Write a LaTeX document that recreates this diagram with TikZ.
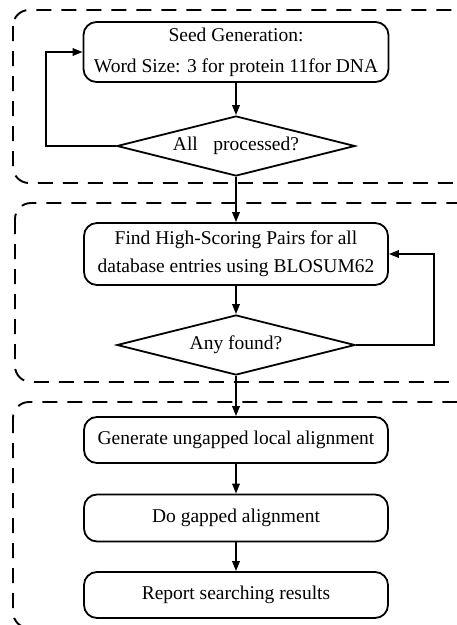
\documentclass[tikz,border=0pt]{standalone}
\usepackage{fontspec}
\setmainfont{Liberation Serif}
\usepackage{tikz}
\usetikzlibrary{shapes.geometric, arrows.meta}

\tikzset{
	stage/.style = {draw, line width=1.8pt, rounded corners=13pt, align=center, inner sep=0pt},
	test/.style = {draw, line width=1.8pt, diamond, aspect=4, inner sep=0pt, minimum width=238pt, minimum height=60pt},
	group/.style = {line width=1.9pt, dash pattern=on 15pt off 10pt, rounded corners=16pt},
	arr/.style = {line width=1.8pt, -{Triangle[length=10pt, width=7.5pt]}}
}

\begin{document}
\begin{tikzpicture}[x = 1pt, y = -1pt, font = \fontsize{19.5}{28}\selectfont]

\useasboundingbox (0,0) rectangle (457,625);
\clip (0,0) rectangle (457,625);

% dashed groups, cut at the right edge
\draw[group] (13,10) rectangle (490,183);
\draw[group] (15,203) rectangle (490,382);
\draw[group] (13,402) rectangle (490,628);

% steps
\node[stage, minimum width=305pt, minimum height=60pt] (seed) at (236,52) {Seed Generation:\\[3pt] Word Size: 3 for protein 11for DNA};
\node[test] (all) at (236,146) {All\hspace{0.8em}processed?};
\node[stage, minimum width=304pt, minimum height=62pt] (hsp) at (236,254) {Find High-Scoring Pairs for all\\ database entries using BLOSUM62};
\node[test] (any) at (236,345) {Any found?};
\node[stage, minimum width=304pt, minimum height=46pt] (ungap) at (236,440) {Generate ungapped local alignment};
\node[stage, minimum width=304pt, minimum height=47pt] (gap) at (236,518) {Do gapped alignment};
\node[stage, minimum width=304pt, minimum height=46pt] (report) at (236,595) {Report searching results};

% flow
\draw[arr] (seed) -- (all);
\draw[arr] (all.west) -- ++(-70,0) |- (seed.west);
\draw[arr] (all) -- (hsp);
\draw[arr] (hsp) -- (any);
\draw[arr] (any.east) -- ++(78,0) |- (hsp.east);
\draw[arr] (any) -- (ungap);
\draw[arr] (ungap) -- (gap);
\draw[arr] (gap) -- (report);

\end{tikzpicture}
\end{document}
